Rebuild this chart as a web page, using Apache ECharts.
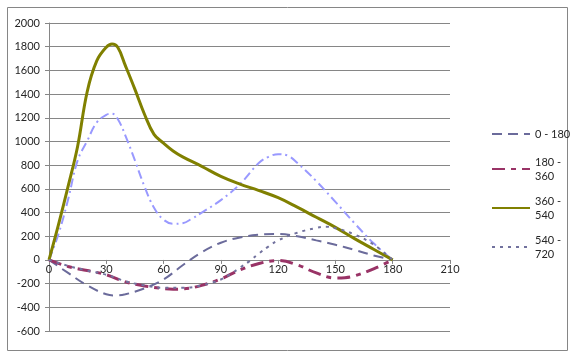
<!DOCTYPE html>
<html>
<head>
<meta charset="utf-8">
<script src="https://cdn.jsdelivr.net/npm/echarts@6/dist/echarts.min.js"></script>
<style>
html,body{margin:0;padding:0;background:#fff;}
#chart{width:571px;height:353px;}
</style>
</head>
<body>
<div id="chart"></div>
<script>
// ---- data ----
const xTicks = [0, 30, 60, 90, 120, 150, 180, 210];
const yTicks = [-600, -400, -200, 0, 200, 400, 600, 800, 1000, 1200, 1400, 1600, 1800, 2000];

const names = ['0 - 180', '180 - 360', '360 - 540', '540 - 720'];

const x0_180 = [0, 10, 20, 30, 35, 40, 50, 60, 70, 80, 90, 100, 110, 120, 130, 140, 150, 160, 170, 180];
const y0_180 = [0, -110, -215, -290, -300, -290, -240, -165, -45, 65, 145, 190, 213, 220, 200, 165, 128, 85, 38, 0];

const x180_360 = [0, 10, 20, 30, 40, 50, 60, 65, 70, 80, 90, 100, 110, 120, 130, 140, 150, 155, 160, 170, 180];
const y180_360 = [0, -55, -90, -125, -185, -220, -242, -247, -245, -215, -160, -85, -30, -5, -42, -110, -152, -150, -135, -75, 0];

const x360_540 = [0, 5, 10, 15, 20, 25, 30, 33, 36, 40, 45, 50, 55, 60, 65, 70, 80, 90, 100, 110, 120, 130, 140, 150, 160, 170, 180];
const y360_540 = [0, 300, 620, 960, 1420, 1680, 1795, 1822, 1795, 1640, 1440, 1230, 1060, 985, 920, 870, 790, 705, 640, 585, 525, 445, 360, 275, 180, 90, 0];

const x540_720 = [0, 10, 20, 30, 40, 50, 60, 70, 80, 90, 95, 100, 105, 110, 115, 120, 130, 140, 145, 150, 160, 170, 180];
const y540_720 = [0, -50, -90, -125, -180, -215, -235, -235, -215, -165, -120, -65, -10, 55, 115, 165, 230, 270, 280, 268, 215, 130, 0];

// unlabeled series (not in legend)
const xExtra = [0, 5, 10, 15, 20, 25, 30, 33, 36, 40, 45, 50, 55, 60, 65, 70, 75, 80, 90, 100, 110, 115, 120, 125, 130, 140, 150, 160, 170, 180];
const yExtra = [0, 220, 510, 840, 1005, 1160, 1225, 1235, 1190, 1050, 840, 620, 440, 340, 305, 310, 350, 400, 505, 640, 820, 870, 893, 880, 820, 665, 490, 310, 140, 0];

function pairs(xs, ys) { return xs.map((x, i) => [x, ys[i]]); }

const FONT = 'Lato';
const FS = 11;
const TXT = '#262626';
const GRID = '#868686';

const W = 571, H = 353;
const gridTop = 23, gridBottom = 22;
const yMin = yTicks[0], yMax = yTicks[yTicks.length - 1];
const gridH = H - gridTop - gridBottom;
const zeroOffset = -((0 - yMin) / (yMax - yMin)) * gridH;

const chart = echarts.init(document.getElementById('chart'), null, { renderer: 'canvas' });

function legendAt(name, top, twoLine) {
  return {
    data: [name],
    orient: 'vertical',
    left: 486,
    top: top,
    itemWidth: 38,
    itemHeight: 14,
    itemGap: 0,
    itemStyle: { opacity: 0 },
    formatter: function (n) { return n.length > 7 ? n.replace(' - ', ' -\n') : n; },
    textStyle: {
      fontFamily: FONT, fontSize: FS, color: TXT, lineHeight: 14,
      padding: twoLine ? [14, 0, 0, 0] : 0
    }
  };
}

chart.setOption({
  animation: false,
  backgroundColor: '#fff',
  graphic: [{
    type: 'rect', left: 5, top: 5, silent: true,
    shape: { width: 560, height: 343 },
    style: { fill: 'none', stroke: GRID, lineWidth: 1 }
  }],
  grid: { left: 49, top: gridTop, right: 121, bottom: gridBottom, containLabel: false },
  legend: [
    legendAt(names[0], 122, false),
    legendAt(names[1], 143, true),
    legendAt(names[2], 182, true),
    legendAt(names[3], 221, true)
  ],
  xAxis: {
    type: 'value', min: xTicks[0], max: xTicks[xTicks.length - 1], interval: 30,
    offset: zeroOffset,
    axisLine: { onZero: false, lineStyle: { color: GRID, width: 1 } },
    axisTick: { show: true, length: 4, lineStyle: { color: GRID } },
    axisLabel: { fontFamily: FONT, fontSize: FS, color: TXT, margin: 4 },
    splitLine: { show: false }
  },
  yAxis: {
    type: 'value', min: yMin, max: yMax, interval: 200,
    axisLine: { show: true, lineStyle: { color: GRID, width: 1 } },
    axisTick: { show: true, length: 4, lineStyle: { color: GRID } },
    axisLabel: { fontFamily: FONT, fontSize: FS, color: TXT, margin: 9, formatter: function (v) { return String(v); } },
    splitLine: { show: true, lineStyle: { color: GRID, width: 1 } }
  },
  series: [
    {
      name: 'extra', type: 'line', smooth: 0.4, symbol: 'none', z: 2,
      data: pairs(xExtra, yExtra),
      lineStyle: { color: '#9999ff', width: 2, type: [9, 4, 2, 4] },
      itemStyle: { color: '#9999ff' }
    },
    {
      name: names[0], type: 'line', smooth: 0.4, symbol: 'none', z: 3,
      data: pairs(x0_180, y0_180),
      lineStyle: { color: '#6b6b9b', width: 2, type: [10, 6] },
      itemStyle: { color: '#6b6b9b' }
    },
    {
      name: names[1], type: 'line', smooth: 0.4, symbol: 'none', z: 4,
      data: pairs(x180_360, y180_360),
      lineStyle: { color: '#993366', width: 3, type: [13, 6, 5, 6] },
      itemStyle: { color: '#993366' }
    },
    {
      name: names[2], type: 'line', smooth: 0.4, symbol: 'none', z: 5,
      data: pairs(x360_540, y360_540),
      lineStyle: { color: '#808000', width: 3, type: 'solid' },
      itemStyle: { color: '#808000' }
    },
    {
      name: names[3], type: 'line', smooth: 0.4, symbol: 'none', z: 6,
      data: pairs(x540_720, y540_720),
      lineStyle: { color: '#72729e', width: 2, type: [3, 5] },
      itemStyle: { color: '#72729e' }
    }
  ]
});
</script>
</body>
</html>
